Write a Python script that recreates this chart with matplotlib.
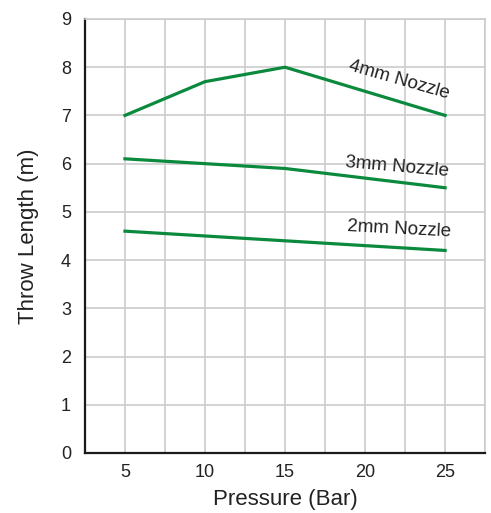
import numpy as np
import matplotlib
matplotlib.use('Agg')
import matplotlib.pyplot as plt

plt.rcParams['font.family'] = ['Liberation Sans', 'DejaVu Sans']

pressure = [5, 10, 15, 20, 25]
nozzle_4mm = [7.0, 7.7, 8.0, 7.5, 7.0]
nozzle_3mm = [6.1, 6.0, 5.9, 5.7, 5.5]
nozzle_2mm = [4.6, 4.5, 4.4, 4.3, 4.2]

labels = ['4mm Nozzle', '3mm Nozzle', '2mm Nozzle']
label_pos = [(22.1, 7.74, -16), (22.0, 5.93, -5), (22.1, 4.63, -3)]

green = '#0b8a3e'

fig = plt.figure(figsize=(4.91, 5.13), dpi=100)
ax = fig.add_axes([0.173, 0.117, 0.815, 0.846])

for series in [nozzle_4mm, nozzle_3mm, nozzle_2mm]:
    ax.plot(pressure, series, color=green, lw=2.3, zorder=3)

for text, (x, y, rot) in zip(labels, label_pos):
    ax.text(x, y, text, rotation=rot, ha='center', va='center',
            fontsize=13.5, color='#222222', rotation_mode='anchor')

ax.set_xlim(2.5, 27.5)
ax.set_ylim(0, 9)
ax.set_xticks([5, 10, 15, 20, 25])
ax.set_xticks(np.arange(2.5, 27.6, 2.5), minor=True)
ax.set_yticks(range(0, 10))
ax.grid(True, which='both', axis='x', color='#cccccc', lw=1.2)
ax.grid(True, axis='y', color='#cccccc', lw=1.2)
ax.tick_params(which='both', length=0, labelsize=13, colors='#222222', pad=8)
ax.tick_params(axis='y', pad=10)

for side in ['top', 'right']:
    ax.spines[side].set_color('#cccccc')
    ax.spines[side].set_linewidth(1.2)
for side in ['left', 'bottom']:
    ax.spines[side].set_color('#1a1a1a')
    ax.spines[side].set_linewidth(1.6)

ax.set_xlabel('Pressure (Bar)', fontsize=16, color='#222222', labelpad=6)
ax.set_ylabel('Throw Length (m)', fontsize=16, color='#222222', labelpad=16)

fig.savefig('out.png', dpi=100)
